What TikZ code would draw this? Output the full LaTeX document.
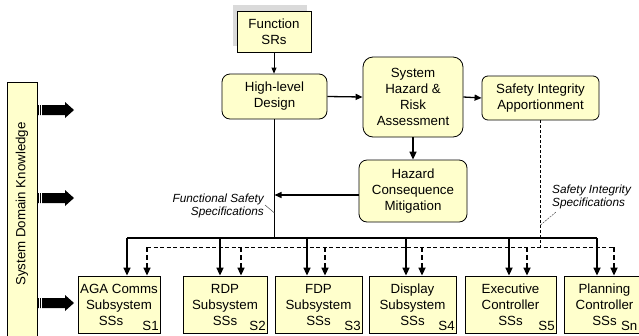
\documentclass[tikz,border=0pt]{standalone}
\usepackage{fontspec}
\setmainfont{Liberation Sans}
\usetikzlibrary{arrows.meta,shadows}
\definecolor{boxfill}{RGB}{255,255,204}
\definecolor{shadowgray}{RGB}{218,218,218}

\begin{document}
\begin{tikzpicture}[x=1bp,y=-1bp,
  every node/.style={font=\fontsize{13.3bp}{16bp}\selectfont, inner sep=0pt},
  plainbox/.style={draw=black, line width=0.8bp, fill=boxfill, align=center},
  roundbox/.style={plainbox, rounded corners=#1},
  roundbox/.default=8bp,
  ssbox/.style={plainbox, minimum height=57bp},
  spec/.style={font=\fontsize{11.8bp}{13bp}\selectfont\itshape},
  sslabel/.style={anchor=base east},
  thinarr/.style={line width=0.8bp, -{Triangle[length=6bp,width=5bp]}},
  medarr/.style={line width=1.3bp, -{Triangle[length=7bp,width=6bp]}},
  busarr/.style={line width=1.6bp, -{Triangle[length=8bp,width=7bp]}},
  dbusarr/.style={line width=1.6bp, dash pattern=on 5bp off 3bp, -{Triangle[length=8bp,width=7bp]}},
  leader/.style={line width=0.5bp, black!70},
  fatarrow/.pic={
    \fill (0,-5) -- (28,-5) -- (28,-8) -- (37,0) -- (28,8) -- (28,5) -- (0,5) -- cycle;
    \draw[white, line width=0.7bp] (2,-5.5) -- (2,5.5) (4,-5.5) -- (4,5.5);
  }
]
\clip (0,0) rectangle (639,335);

% knowledge bar on the left with its three feed arrows
\node[plainbox, minimum width=30bp, minimum height=264bp] (sdk) at (22,214) {};
\node[rotate=90] (sdktext) at (22,204) {System Domain Knowledge};
\pic at (37,110) {fatarrow};
\pic at (37,198) {fatarrow};
\pic at (37,303) {fatarrow};

% upper process chain
\node[plainbox, minimum width=74bp, minimum height=41bp,
      general shadow={fill=shadowgray, shadow xshift=-4bp, shadow yshift=6bp}]
      (fsr) at (274,31.5) {Function\\SRs};
\node[roundbox, minimum width=105bp, minimum height=45bp] (hld) at (274.5,96.5) {High-level\\Design};
\node[roundbox=10bp, minimum width=100bp, minimum height=80bp] (shra) at (413,97) {System\\Hazard \&\\Risk\\Assessment};
\node[roundbox=6bp, minimum width=117bp, minimum height=44bp] (sia) at (540.5,98) {Safety Integrity\\Apportionment};
\node[roundbox, minimum width=108bp, minimum height=62bp] (hcm) at (413,191) {Hazard\\Consequence\\Mitigation};

\draw[thinarr] (fsr.south) -- (fsr.south |- hld.north);
\draw[medarr] (hld.east) -- (shra.west);
\draw[medarr] (shra.east) -- (sia.west);
\draw[busarr] (shra.south) -- (hcm.north);

% subsystems
\node[ssbox, minimum width=82bp] (s1) at (119,304.5) {AGA Comms\\Subsystem\\SSs\hspace*{16bp}};
\node[ssbox, minimum width=84bp] (s2) at (225,304.5) {RDP\\Subsystem\\SSs};
\node[ssbox, minimum width=87bp] (s3) at (318.5,304.5) {FDP\\Subsystem\\SSs};
\node[ssbox, minimum width=87bp] (s4) at (412.5,304.5) {Display\\Subsystem\\SSs};
\node[ssbox, minimum width=91bp] (s5) at (510.5,304.5) {Executive\\Controller\\SSs};
\node[ssbox, minimum width=81bp] (sn) at (604.5,304.5) {Planning\\Controller\\SSs};
\foreach \n/\t in {s1/S1, s2/S2, s3/S3, s4/S4, s5/S5}
  \node[sslabel] (\n lab) at ([shift={(-1.5,-3)}]\n.south east) {\t};
% the last box runs past the right edge, so its tag sits just inside it
\node[sslabel] (snlab) at ([shift={(-1.5,-3)}]sn.south -| 639,0) {Sn};

% functional safety specifications bus
\coordinate (fsjoin) at (274.5,195);
\coordinate (busL) at (127,238);
\coordinate (busR) at (597,238);
\draw[line width=0.8bp] (hld.south) -- (hld.south |- busL);
\draw[medarr] (hcm.west |- fsjoin) -- (fsjoin);
\draw[line width=1.6bp] (busL) -- (busR);
\foreach \n/\x in {s1/127, s2/220, s3/307, s4/406, s5/509, sn/597} {
  \coordinate (fs\n) at (\x,238);
  \draw[busarr] (fs\n) -- (fs\n |- \n.north);
}
\node[spec, anchor=east, align=right] (fslabel) at (264,206) {Functional Safety\\Specifications};
\coordinate (fsleadA) at (265,205);
\coordinate (fsleadB) at (274.5,213);
\draw[leader] (fsleadA) -- (fsleadB);

% safety integrity specifications bus
\coordinate (dbusL) at (147,247);
\coordinate (dbusR) at (614,247);
\draw[line width=0.7bp, dash pattern=on 3bp off 2bp] (sia.south) -- (sia.south |- dbusL);
\draw[line width=0.9bp, dash pattern=on 4bp off 2.5bp] (dbusL) -- (dbusR);
\foreach \n/\x in {s1/147, s2/241, s3/325, s4/422, s5/527, sn/614} {
  \coordinate (si\n) at (\x,247);
  \draw[dbusarr] (si\n) -- (si\n |- \n.north);
}
\node[spec, anchor=west, align=left] (silabel) at (552,196.5) {Safety Integrity\\Specifications};
\coordinate (sileadA) at (540.5,225);
\coordinate (sileadB) at (556,212);
\draw[leader, dash pattern=on 2bp off 1bp] (sileadA) -- (sileadB);
\end{tikzpicture}
\end{document}
